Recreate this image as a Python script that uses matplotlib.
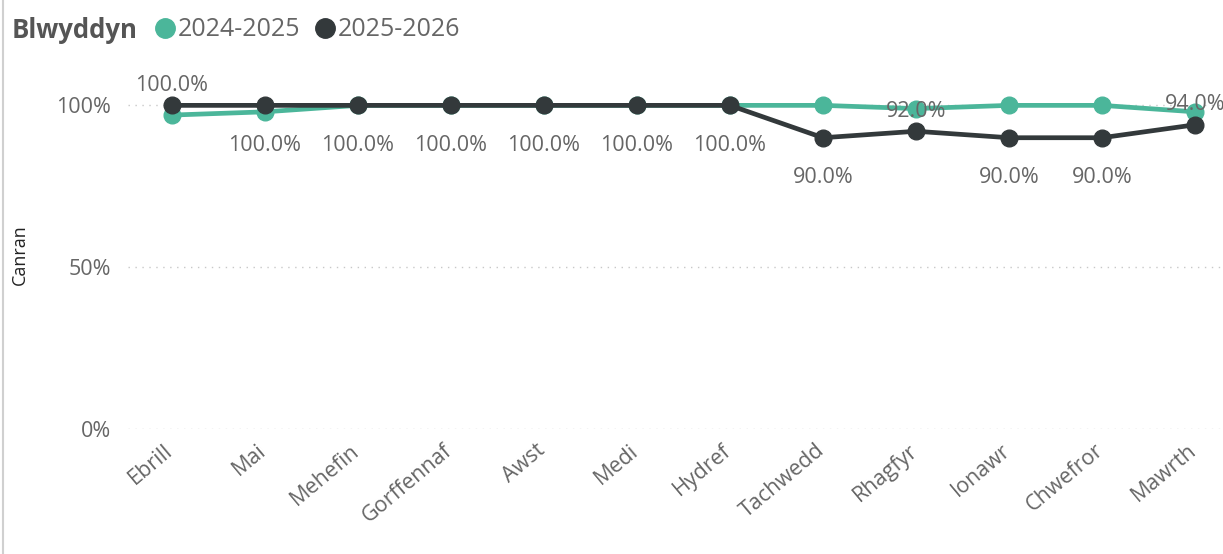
import matplotlib
matplotlib.use("Agg")
import matplotlib.pyplot as plt
import matplotlib.transforms as mtransforms
from matplotlib.lines import Line2D

months = ["Ebrill", "Mai", "Mehefin", "Gorffennaf", "Awst", "Medi", "Hydref",
          "Tachwedd", "Rhagfyr", "Ionawr", "Chwefror", "Mawrth"]
series_2024_2025 = [97, 98, 100, 100, 100, 100, 100, 100, 99, 100, 100, 98]
series_2025_2026 = [100, 100, 100, 100, 100, 100, 100, 90, 92, 90, 90, 94]
label_above = [True, False, False, False, False, False, False, False, True, False, False, True]
yticks = [0, 50, 100]
ytick_labels = ["0%", "50%", "100%"]

GREEN = "#4BB69A"
DARK = "#33393B"
TXT = "#666666"

plt.rcParams['font.family'] = ['Open Sans', 'DejaVu Sans']

W, H = 1223, 554
fig = plt.figure(figsize=(W / 100, H / 100), dpi=100)
ax = fig.add_axes([128 / W, (H - 429) / H, (W - 128) / W, (429 - 73) / H])

x = list(range(len(months)))
ax.plot(x, series_2024_2025, color=GREEN, lw=3.4, marker="o", ms=12, zorder=3)
ax.plot(x, series_2025_2026, color=DARK, lw=3.4, marker="o", ms=12, zorder=4)

for xi, v, above in zip(x, series_2025_2026, label_above):
    if above:
        ax.annotate(f"{v:.1f}%", (xi, v), xytext=(0, 7), textcoords="offset points",
                    ha="center", va="bottom", fontsize=15.5, color=TXT, zorder=5)
    else:
        ax.annotate(f"{v:.1f}%", (xi, v), xytext=(0, -21), textcoords="offset points",
                    ha="center", va="top", fontsize=15.5, color=TXT, zorder=5)

ax.set_xlim(-0.47, 11.3)
ax.set_ylim(0, 110)
ax.set_yticks(yticks)
ax.set_yticklabels(ytick_labels)
ax.set_xticks(x)
ax.set_xticklabels(months, rotation=40, ha="right", rotation_mode="anchor")
ax.tick_params(axis="both", length=0, labelsize=15.5, labelcolor=TXT)
ax.tick_params(axis="x", pad=8)
ax.tick_params(axis="y", pad=12)
shift = mtransforms.ScaledTranslation(-8 / 100, 0, fig.dpi_scale_trans)
for lab in ax.get_xticklabels():
    lab.set_transform(lab.get_transform() + shift)
for s in ax.spines.values():
    s.set_visible(False)
ax.grid(axis="y", linestyle=(0, (1, 4)), color="#C8C8C8", lw=1)
ax.set_axisbelow(True)
ax.set_ylabel("Canran", fontsize=13, color="#222222", va="center")
ax.yaxis.set_label_coords((20 - 128) / (W - 128), 0.49)

# legend
fig.text(12 / W, 1 - 30 / H, "Blwyddyn", fontsize=18.5, fontweight="bold", color="#555555",
         va="center", ha="left")
handles = [Line2D([], [], marker="o", ls="none", ms=14, color=GREEN),
           Line2D([], [], marker="o", ls="none", ms=14, color=DARK)]
fig.legend(handles, ["2024-2025", "2025-2026"], loc="center left",
           bbox_to_anchor=(140 / W, 1 - 30 / H), ncol=2, frameon=False,
           fontsize=18, labelcolor=TXT, handletextpad=0.0, columnspacing=0.5,
           borderpad=0, handlelength=1.0)

# left border line
fig.add_artist(Line2D([3 / W, 3 / W], [0, 1], color="#D0D0D0", lw=1.5))

fig.savefig("out.png", dpi=100)
